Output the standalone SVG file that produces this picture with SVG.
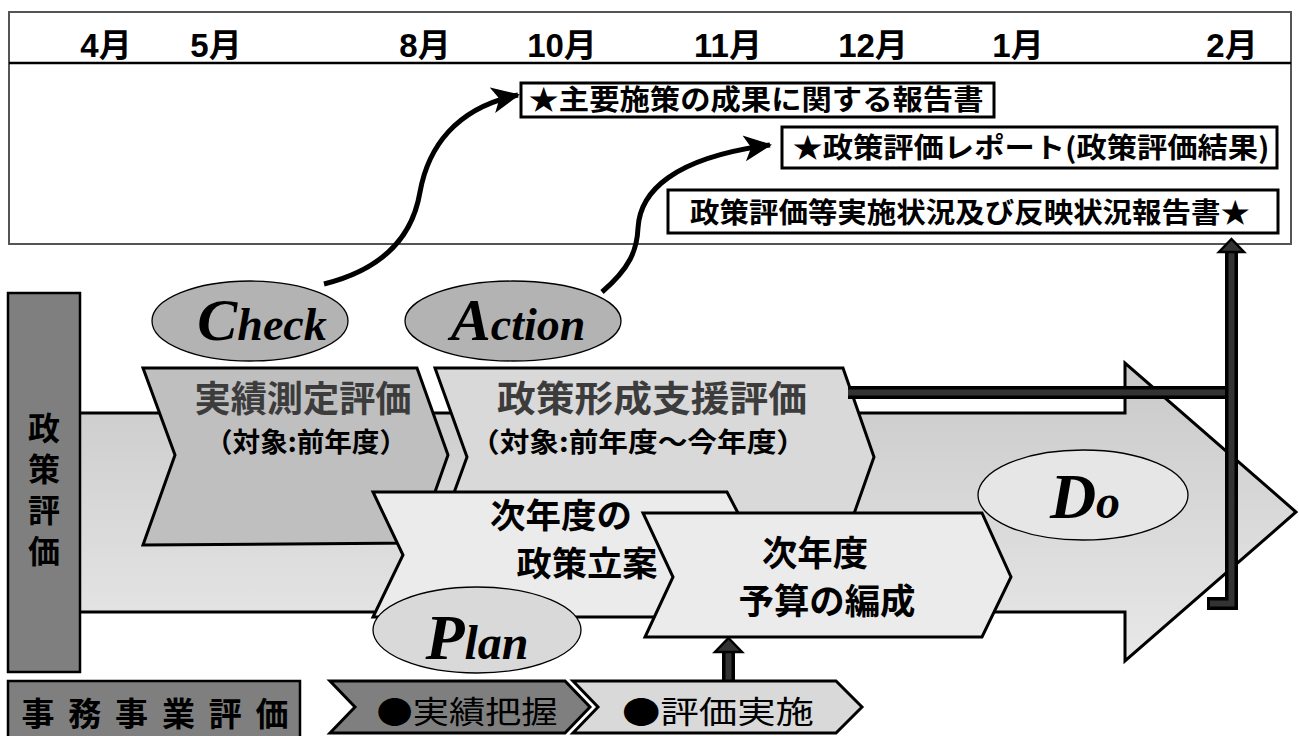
<svg xmlns="http://www.w3.org/2000/svg" width="1299" height="736" viewBox="0 0 1299 736">
<defs>
<linearGradient id="bodyGrad" x1="0" y1="0" x2="0" y2="1">
<stop offset="0" stop-color="#c9c9c9"/>
<stop offset="1" stop-color="#e8e8e8"/>
</linearGradient>
<marker id="curveHead" markerUnits="userSpaceOnUse" markerWidth="30" markerHeight="30" refX="26" refY="13" orient="auto" viewBox="0 0 30 26">
<path d="M0,0 L28,13 L0,26 L7,13 z" fill="#000"/>
</marker>
<style>
.frame{fill:#fff;stroke:#555;stroke-width:2}
.month{font-family:"Liberation Sans","Noto Sans CJK JP",sans-serif;font-weight:bold;font-size:33px;fill:#000;text-anchor:middle}
.rep{fill:#fff;stroke:#000;stroke-width:3}
.repText{font-family:"Noto Sans CJK JP",sans-serif;font-weight:bold;font-size:28px;fill:#000;text-anchor:middle}
.pdca{font-family:"Liberation Serif",serif;font-weight:bold;font-style:italic;fill:#000;text-anchor:middle}
.ell{stroke:#000;stroke-width:1.3}
.shape{stroke:#000;stroke-width:3;stroke-linejoin:miter}
.jp{font-family:"Noto Sans CJK JP",sans-serif;font-weight:bold;text-anchor:middle}
.curve{fill:none;stroke:#000;stroke-width:5}
.bandOut{fill:none;stroke:#000;stroke-width:13}
.bandIn{fill:none;stroke:#333;stroke-width:6}
.head{fill:#333;stroke:#000;stroke-width:2.5;stroke-linejoin:miter}
</style>
</defs>

<g id="timeline">
<rect class="frame" x="9" y="12" width="1282" height="232"/>
<line x1="9" y1="63" x2="1291" y2="63" stroke="#000" stroke-width="2.5"/>
<text class="month" x="106" y="57">4月</text>
<text class="month" x="216" y="57">5月</text>
<text class="month" x="425" y="57">8月</text>
<text class="month" x="562" y="57">10月</text>
<text class="month" x="728" y="57">11月</text>
<text class="month" x="873" y="57">12月</text>
<text class="month" x="1018" y="57">1月</text>
<text class="month" x="1232" y="57">2月</text>
</g>

<g id="report1">
<rect class="rep" x="521" y="83" width="473" height="34"/>
<text class="repText" x="756" y="110" textLength="455" lengthAdjust="spacingAndGlyphs">★主要施策の成果に関する報告書</text>
</g>
<g id="report2">
<rect class="rep" x="782" y="127" width="495" height="41"/>
<text class="repText" x="1031" y="158" textLength="477" lengthAdjust="spacingAndGlyphs">★政策評価レポート(政策評価結果)</text>
</g>
<g id="report3">
<rect class="rep" x="668" y="190" width="610" height="43"/>
<text class="repText" x="970" y="223" textLength="560" lengthAdjust="spacingAndGlyphs">政策評価等実施状況及び反映状況報告書★</text>
</g>

<g id="connectors">
<path class="curve" d="M324,284 C380,270 412,240 420,192 C428,148 455,108 518,95" marker-end="url(#curveHead)"/>
<path class="curve" d="M602,292 C630,268 637,250 638,228 C640,192 672,158 770,145" marker-end="url(#curveHead)"/>
</g>

<g id="check">
<ellipse class="ell" cx="250" cy="321" rx="98" ry="40" fill="#b3b3b3"/>
<text class="pdca" x="262" y="340"><tspan font-size="60">C</tspan><tspan font-size="46">heck</tspan></text>
</g>
<g id="action">
<ellipse class="ell" cx="513" cy="321" rx="108" ry="40" fill="#b3b3b3"/>
<text class="pdca" x="518" y="340"><tspan font-size="60">A</tspan><tspan font-size="46">ction</tspan></text>
</g>

<g id="mainArrow">
<path class="shape" fill="url(#bodyGrad)" d="M78,413 H1125 V363 L1296,512 L1125,661 V612 H78 Z"/>
</g>

<g id="jisseki">
<polygon class="shape" fill="#bfbfbf" points="143,368 417,368 448,455 417,543 143,545 175,455"/>
<text class="jp" x="303" y="412" font-size="36" fill="#3c3c3c" textLength="217" lengthAdjust="spacingAndGlyphs">実績測定評価</text>
<text class="jp" x="306" y="452" font-size="27" fill="#000" textLength="202" lengthAdjust="spacingAndGlyphs">（対象:前年度）</text>
</g>

<g id="seisakukeisei">
<polygon class="shape" fill="#d9d9d9" points="435,368 843,368 874,457 843,545 435,545 467,457"/>
<text class="jp" x="652" y="412" font-size="36" fill="#3c3c3c" textLength="310" lengthAdjust="spacingAndGlyphs">政策形成支援評価</text>
<text class="jp" x="638" y="452" font-size="27" fill="#000" textLength="336" lengthAdjust="spacingAndGlyphs">（対象:前年度～今年度）</text>
</g>

<g id="doConnector">
<path class="bandOut" d="M848,392.5 H1228"/>
<path class="bandIn" d="M848,392.5 H1228"/>
<path class="bandOut" d="M1231.5,250 V603.5 H1207" stroke-linejoin="miter"/>
<path class="bandIn" d="M1231.5,250 V603.5 H1210" stroke-linejoin="miter"/>
<polygon class="head" points="1231.5,239 1244,252 1219,252"/>
</g>

<g id="do">
<ellipse class="ell" cx="1083" cy="495" rx="105" ry="45" fill="#e6e6e6"/>
<text class="pdca" x="1085" y="518"><tspan font-size="64">D</tspan><tspan font-size="48">o</tspan></text>
</g>

<g id="jinendoSeisaku">
<polygon class="shape" fill="#ebebeb" points="373,492 727,492 760,555 727,617 373,617 403,555"/>
<text class="jp" x="561" y="528" font-size="34" fill="#000" textLength="142" lengthAdjust="spacingAndGlyphs">次年度の</text>
<text class="jp" x="587" y="576" font-size="34" fill="#000" textLength="141" lengthAdjust="spacingAndGlyphs">政策立案</text>
</g>

<g id="plan">
<ellipse class="ell" cx="477" cy="630" rx="104" ry="43" fill="#d9d9d9"/>
<text class="pdca" x="477" y="659"><tspan font-size="64">P</tspan><tspan font-size="48">lan</tspan></text>
</g>

<g id="yosan">
<polygon class="shape" fill="#ebebeb" points="643,513 982,513 1011,577 982,637 645,637 673,577"/>
<text class="jp" x="815" y="566" font-size="35" fill="#000" textLength="106" lengthAdjust="spacingAndGlyphs">次年度</text>
<text class="jp" x="827" y="614" font-size="35" fill="#000" textLength="177" lengthAdjust="spacingAndGlyphs">予算の編成</text>
</g>

<g id="upArrow">
<path class="bandOut" d="M728.5,682 V651"/>
<path class="bandIn" d="M728.5,682 V651"/>
<polygon class="head" points="728.5,638 742,652 715,652"/>
</g>

<g id="jissekiHaaku">
<polygon class="shape" fill="#7f7f7f" points="330,681 565,681 590,707 565,733 330,733 355,707"/>
<text x="467" y="723" font-family="Noto Sans CJK JP, sans-serif" font-size="31" fill="#000" text-anchor="middle" textLength="181" lengthAdjust="spacingAndGlyphs">●実績把握</text>
</g>
<g id="hyoukaJisshi">
<polygon class="shape" fill="#d9d9d9" points="573,681 836,681 862,707 836,733 573,733 598,707"/>
<text x="718" y="723" font-family="Noto Sans CJK JP, sans-serif" font-size="31" fill="#000" text-anchor="middle" textLength="192" lengthAdjust="spacingAndGlyphs">●評価実施</text>
</g>

<g id="seisakuHyoka">
<rect x="8" y="293" width="72" height="379" fill="#7f7f7f" stroke="#000" stroke-width="2.5"/>
<text x="44" y="412" font-family="Noto Sans CJK JP, sans-serif" font-weight="bold" font-size="32" fill="#000" writing-mode="vertical-rl" letter-spacing="9">政策評価</text>
</g>

<g id="jimuJigyo">
<rect x="8" y="681" width="292" height="60" fill="#7f7f7f" stroke="#000" stroke-width="2.5"/>
<text class="jp" x="155" y="726" font-size="33" fill="#000" textLength="267" lengthAdjust="spacing">事務事業評価</text>
</g>
</svg>
